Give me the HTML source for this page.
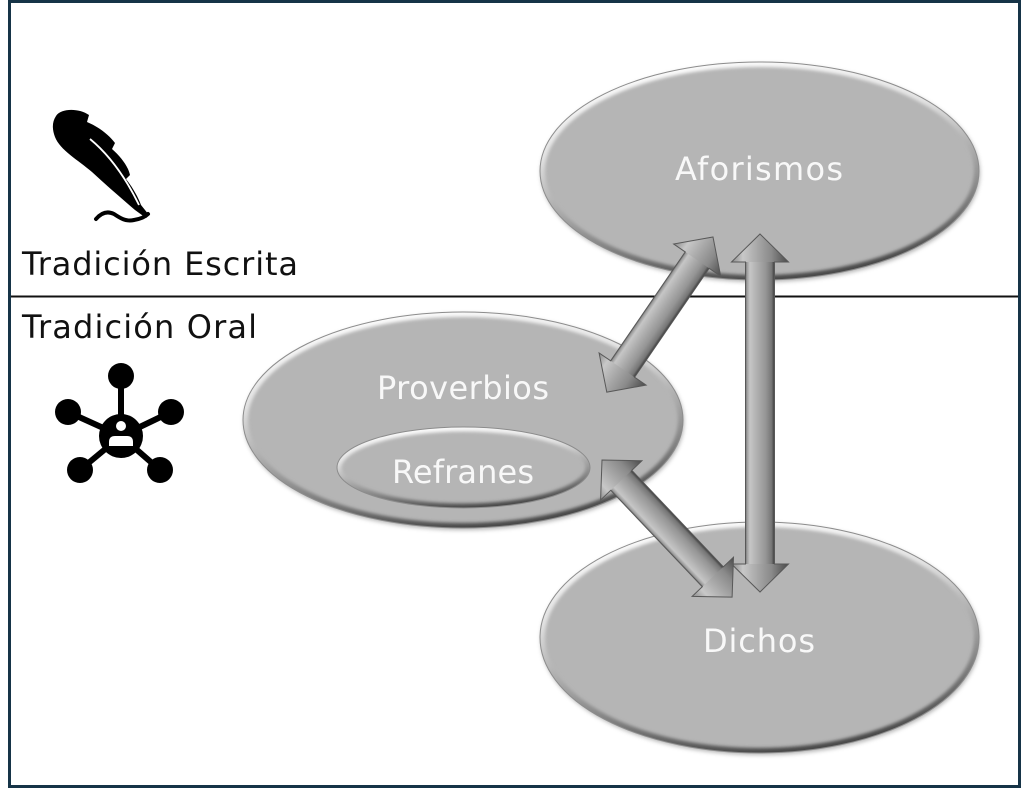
<!DOCTYPE html>
<html>
<head>
<meta charset="utf-8">
<style>
  html, body { margin: 0; padding: 0; background: #ffffff; }
  svg { display: block; }
  text { font-family: "DejaVu Sans", "Liberation Sans", sans-serif; }
</style>
</head>
<body>
<svg width="1023" height="789" viewBox="0 0 1023 789" xmlns="http://www.w3.org/2000/svg">
  <defs>
    <linearGradient id="rim" x1="0.2" y1="0" x2="0.5" y2="1">
      <stop offset="0" stop-color="#ffffff"/>
      <stop offset="0.35" stop-color="#e2e2e2"/>
      <stop offset="0.55" stop-color="#b2b2b2"/>
      <stop offset="0.8" stop-color="#7c7c7c"/>
      <stop offset="1" stop-color="#4a4a4a"/>
    </linearGradient>
    <filter id="soft" x="-10%" y="-10%" width="120%" height="120%">
      <feGaussianBlur stdDeviation="1.5"/>
    </filter>
    <filter id="shadow" x="-10%" y="-10%" width="120%" height="125%">
      <feDropShadow dx="1" dy="2" stdDeviation="2" flood-color="#000" flood-opacity="0.3"/>
    </filter>
    <clipPath id="cA"><ellipse cx="759.5" cy="171" rx="219.5" ry="109"/></clipPath>
    <clipPath id="cP"><ellipse cx="463" cy="420" rx="220" ry="108"/></clipPath>
    <clipPath id="cR"><ellipse cx="463.5" cy="467.5" rx="126.5" ry="40.5"/></clipPath>
    <clipPath id="cD"><ellipse cx="759.5" cy="637.5" rx="219.5" ry="115.5"/></clipPath>

    <linearGradient id="shaft" gradientUnits="userSpaceOnUse" x1="0" y1="-14.5" x2="0" y2="14.5">
      <stop offset="0" stop-color="#3c3c3c"/>
      <stop offset="0.1" stop-color="#767676"/>
      <stop offset="0.3" stop-color="#959595"/>
      <stop offset="0.6" stop-color="#afafaf"/>
      <stop offset="0.85" stop-color="#c6c6c6"/>
      <stop offset="0.95" stop-color="#9c9c9c"/>
      <stop offset="1" stop-color="#6a6a6a"/>
    </linearGradient>
    <linearGradient id="head" gradientUnits="userSpaceOnUse" x1="0" y1="-28.5" x2="0" y2="28.5">
      <stop offset="0" stop-color="#4a4a4a"/>
      <stop offset="0.3" stop-color="#8a8a8a"/>
      <stop offset="0.55" stop-color="#a8a8a8"/>
      <stop offset="0.8" stop-color="#c8c8c8"/>
      <stop offset="1" stop-color="#8a8a8a"/>
    </linearGradient>
  </defs>

  <!-- frame -->
  <rect x="9.5" y="1.5" width="1010" height="785" fill="#ffffff" stroke="#163447" stroke-width="3"/>

  <!-- divider line -->
  <line x1="11" y1="296.5" x2="1018" y2="296.5" stroke="#111111" stroke-width="2"/>

  <!-- Left labels -->
  <text x="22" y="275" font-size="32" fill="#111111" textLength="276" lengthAdjust="spacing">Tradición Escrita</text>
  <text x="22" y="338" font-size="32" fill="#111111" textLength="235" lengthAdjust="spacing">Tradición Oral</text>

  <!-- Feather icon -->
  <path d="M56,116 C61,108 79,108 89,115 L87,122 C99,127 109,135 115,143 L112,149 C121,157 128,166 130,175 L126,179 C133,188 138,197 141,205 L149,215 L146,218 L135,210 C121,198 106,185 92,172 C78,160 60,150 55,137 C52,129 52,122 56,116 Z" fill="#000000"/>
  <path d="M90,139 Q118,162 139,205" fill="none" stroke="#ffffff" stroke-width="1.8"/>
  <path d="M96,219 C102,212 108,211 114,214 C120,218 126,222 134,220 C140,219 145,217 148,214" fill="none" stroke="#000000" stroke-width="4" stroke-linecap="round"/>

  <!-- Network icon -->
  <g stroke="#000000" stroke-width="6">
    <line x1="121" y1="436" x2="121" y2="376"/>
    <line x1="121" y1="436" x2="68" y2="412"/>
    <line x1="121" y1="436" x2="171" y2="412"/>
    <line x1="121" y1="436" x2="80" y2="470"/>
    <line x1="121" y1="436" x2="160" y2="470"/>
  </g>
  <g fill="#000000">
    <circle cx="121" cy="376" r="13"/>
    <circle cx="68" cy="412" r="13"/>
    <circle cx="171" cy="412" r="13"/>
    <circle cx="80" cy="470" r="13"/>
    <circle cx="160" cy="470" r="13"/>
    <circle cx="121" cy="436" r="22"/>
  </g>
  <circle cx="121" cy="426" r="5" fill="#ffffff"/>
  <path d="M109,446 L109,442 Q109,436 115,436 L127,436 Q133,436 133,442 L133,446 Z" fill="#ffffff"/>

  <!-- Aforismos -->
  <g filter="url(#shadow)">
    <ellipse cx="759.5" cy="171" rx="219.5" ry="109" fill="#b5b5b5"/>
  </g>
  <g clip-path="url(#cA)">
    <ellipse cx="759.5" cy="171" rx="219.5" ry="109" fill="none" stroke="url(#rim)" stroke-width="10" filter="url(#soft)"/>
  </g>
  <ellipse cx="759.5" cy="171" rx="219.5" ry="109" fill="none" stroke="#8c8c8c" stroke-width="1"/>
  <text x="675" y="180" font-size="32" fill="#f8f8f8" textLength="168" lengthAdjust="spacing">Aforismos</text>

  <!-- Proverbios -->
  <g filter="url(#shadow)">
    <ellipse cx="463" cy="420" rx="220" ry="108" fill="#b5b5b5"/>
  </g>
  <g clip-path="url(#cP)">
    <ellipse cx="463" cy="420" rx="220" ry="108" fill="none" stroke="url(#rim)" stroke-width="10" filter="url(#soft)"/>
  </g>
  <ellipse cx="463" cy="420" rx="220" ry="108" fill="none" stroke="#8c8c8c" stroke-width="1"/>
  <text x="377" y="399" font-size="32" fill="#f8f8f8" textLength="172" lengthAdjust="spacing">Proverbios</text>

  <!-- Refranes -->
  <ellipse cx="463.5" cy="467.5" rx="126.5" ry="40.5" fill="#b5b5b5"/>
  <g clip-path="url(#cR)">
    <ellipse cx="463.5" cy="467.5" rx="126.5" ry="40.5" fill="none" stroke="url(#rim)" stroke-width="9" filter="url(#soft)"/>
  </g>
  <ellipse cx="463.5" cy="467.5" rx="126.5" ry="40.5" fill="none" stroke="#8c8c8c" stroke-width="1"/>
  <text x="392" y="483" font-size="32" fill="#f8f8f8" textLength="142" lengthAdjust="spacing">Refranes</text>

  <!-- Dichos -->
  <g filter="url(#shadow)">
    <ellipse cx="759.5" cy="637.5" rx="219.5" ry="115.5" fill="#b5b5b5"/>
  </g>
  <g clip-path="url(#cD)">
    <ellipse cx="759.5" cy="637.5" rx="219.5" ry="115.5" fill="none" stroke="url(#rim)" stroke-width="10" filter="url(#soft)"/>
  </g>
  <ellipse cx="759.5" cy="637.5" rx="219.5" ry="115.5" fill="none" stroke="#8c8c8c" stroke-width="1"/>
  <text x="703" y="652" font-size="32" fill="#f8f8f8" textLength="112" lengthAdjust="spacing">Dichos</text>

  <!-- Arrow 1: Aforismos <-> Proverbios -->
  <g transform="translate(713,237) rotate(124.4)">
    <rect x="26" y="-14.5" width="136" height="29" fill="url(#shaft)"/>
    <path d="M0,0 L28,-28.5 L28,28.5 Z" fill="url(#head)"/>
    <path d="M188,0 L160,-28.5 L160,28.5 Z" fill="url(#head)"/>
    <path d="M0,0 L28,-28.5 L28,-14.5 L160,-14.5 L160,-28.5 L188,0 L160,28.5 L160,14.5 L28,14.5 L28,28.5 Z" fill="none" stroke="#585858" stroke-width="1"/>
  </g>

  <!-- Arrow 2: Aforismos <-> Dichos (vertical) -->
  <g transform="translate(760,234) rotate(90)">
    <rect x="26" y="-14.5" width="306" height="29" fill="url(#shaft)"/>
    <path d="M0,0 L28,-28.5 L28,28.5 Z" fill="url(#head)"/>
    <path d="M358,0 L330,-28.5 L330,28.5 Z" fill="url(#head)"/>
    <path d="M0,0 L28,-28.5 L28,-14.5 L330,-14.5 L330,-28.5 L358,0 L330,28.5 L330,14.5 L28,14.5 L28,28.5 Z" fill="none" stroke="#585858" stroke-width="1"/>
  </g>

  <!-- Arrow 3: Refranes <-> Dichos -->
  <g transform="translate(602,460) rotate(46.5)">
    <rect x="26" y="-14.5" width="137" height="29" fill="url(#shaft)"/>
    <path d="M0,0 L28,-28.5 L28,28.5 Z" fill="url(#head)"/>
    <path d="M189,0 L161,-28.5 L161,28.5 Z" fill="url(#head)"/>
    <path d="M0,0 L28,-28.5 L28,-14.5 L161,-14.5 L161,-28.5 L189,0 L161,28.5 L161,14.5 L28,14.5 L28,28.5 Z" fill="none" stroke="#585858" stroke-width="1"/>
  </g>
</svg>
</body>
</html>
